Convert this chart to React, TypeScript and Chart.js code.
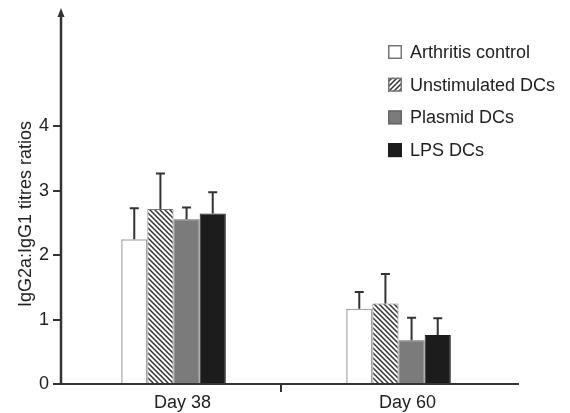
import React, { useEffect, useRef } from "react";
import { Chart, registerables } from "chart.js";

Chart.register(...registerables);

const categories = ["Day 38", "Day 60"];
const seriesNames = ["Arthritis control", "Unstimulated DCs", "Plasmid DCs", "LPS DCs"];
const arthritisControl = [2.25, 1.17];
const unstimulatedDCs = [2.72, 1.25];
const plasmidDCs = [2.56, 0.68];
const lpsDCs = [2.65, 0.76];
const arthritisControlErr = [0.48, 0.26];
const unstimulatedDCsErr = [0.55, 0.46];
const plasmidDCsErr = [0.18, 0.35];
const lpsDCsErr = [0.33, 0.26];
const yTicks = [0, 1, 2, 3, 4];
const yTitle = "IgG2a:IgG1 titres ratios";

const FONT = "'Liberation Sans', Arial, Helvetica, sans-serif";
const TEXT = "#222";
const AXIS = "#333";

function makeHatch(forward: boolean): CanvasPattern | string {
  const s = 5;
  const c = document.createElement("canvas");
  c.width = s;
  c.height = s;
  const g = c.getContext("2d");
  if (!g) return "#ccc";
  g.fillStyle = "#fff";
  g.fillRect(0, 0, s, s);
  g.strokeStyle = "#333";
  g.lineWidth = 1.5;
  g.beginPath();
  if (forward) {
    g.moveTo(-1, s + 1); g.lineTo(s + 1, -1);
    g.moveTo(-1, 1); g.lineTo(1, -1);
    g.moveTo(s - 1, s + 1); g.lineTo(s + 1, s - 1);
  } else {
    g.moveTo(-1, -1); g.lineTo(s + 1, s + 1);
    g.moveTo(s - 1, -1); g.lineTo(s + 1, 1);
    g.moveTo(-1, s - 1); g.lineTo(1, s + 1);
  }
  g.stroke();
  const p = g.createPattern(c, "repeat");
  return p || "#ccc";
}

export default function App() {
  const ref = useRef<HTMLCanvasElement | null>(null);

  useEffect(() => {
    const canvas = ref.current;
    if (!canvas) return;
    const barHatch = makeHatch(false);
    const legendHatch = makeHatch(true);

    const fills: any[] = ["#ffffff", barHatch, "#7b7b7b", "#1c1c1c"];
    const legendFills: any[] = ["#ffffff", legendHatch, "#7b7b7b", "#1c1c1c"];
    const borders = ["#a5a5a5", "#777777", "#666666", "#1c1c1c"];
    const values = [arthritisControl, unstimulatedDCs, plasmidDCs, lpsDCs];
    const errors = [arthritisControlErr, unstimulatedDCsErr, plasmidDCsErr, lpsDCsErr];

    const decor = {
      id: "decor",
      afterDatasetsDraw(chart: any) {
        const ctx = chart.ctx;
        const ys = chart.scales.y;
        ctx.save();
        ctx.strokeStyle = AXIS;
        ctx.lineWidth = 2;
        chart.data.datasets.forEach((ds: any, i: number) => {
          const meta = chart.getDatasetMeta(i);
          meta.data.forEach((bar: any, j: number) => {
            const v = ds.data[j];
            const e = ds.errors[j];
            const yTop = ys.getPixelForValue(v + e);
            const yBar = ys.getPixelForValue(v);
            ctx.beginPath();
            ctx.moveTo(bar.x, yBar);
            ctx.lineTo(bar.x, yTop);
            ctx.moveTo(bar.x - 4.5, yTop);
            ctx.lineTo(bar.x + 4.5, yTop);
            ctx.stroke();
          });
        });
        ctx.restore();
      },
      afterDraw(chart: any) {
        const ctx = chart.ctx;
        const a = chart.chartArea;
        const xs = chart.scales.x;
        ctx.save();
        ctx.strokeStyle = AXIS;
        ctx.fillStyle = AXIS;
        ctx.lineWidth = 2.5;
        // y axis with arrow
        ctx.beginPath();
        ctx.moveTo(a.left, a.bottom + 1);
        ctx.lineTo(a.left, a.top + 6);
        ctx.stroke();
        ctx.beginPath();
        ctx.moveTo(a.left, a.top);
        ctx.lineTo(a.left - 3.5, a.top + 9);
        ctx.lineTo(a.left + 3.5, a.top + 9);
        ctx.closePath();
        ctx.fill();
        // x axis
        ctx.lineWidth = 2;
        ctx.beginPath();
        ctx.moveTo(a.left, a.bottom);
        ctx.lineTo(a.right + 8, a.bottom);
        ctx.stroke();
        // middle tick
        const mid = (xs.getPixelForValue(0) + xs.getPixelForValue(1)) / 2 - 5;
        ctx.beginPath();
        ctx.moveTo(mid, a.bottom);
        ctx.lineTo(mid, a.bottom + 8);
        ctx.stroke();

        // y title
        ctx.fillStyle = TEXT;
        ctx.font = `18px ${FONT}`;
        ctx.textAlign = "center";
        ctx.textBaseline = "middle";
        ctx.save();
        ctx.translate(26, 214);
        ctx.rotate(-Math.PI / 2);
        ctx.fillText(yTitle, 0, 0);
        ctx.restore();

        // legend
        const bx = 388;
        const tx = 410;
        const y0 = 52;
        const step = 32.7;
        const box = 14;
        ctx.textAlign = "left";
        seriesNames.forEach((name, i) => {
          const cy = y0 + i * step;
          ctx.fillStyle = legendFills[i];
          ctx.fillRect(bx, cy - box / 2, box, box);
          ctx.strokeStyle = i === 0 ? "#777" : borders[i];
          ctx.lineWidth = 1.5;
          ctx.strokeRect(bx + 0.75, cy - box / 2 + 0.75, box - 1.5, box - 1.5);
          ctx.fillStyle = TEXT;
          ctx.fillText(name, tx, cy + 1);
        });
        ctx.restore();
      },
    };

    const chart = new Chart(canvas, {
      type: "bar",
      data: {
        labels: categories,
        datasets: seriesNames.map((name, i) => ({
          label: name,
          data: values[i],
          errors: errors[i],
          backgroundColor: fills[i],
          borderColor: borders[i],
          borderWidth: i === 0 ? 1.5 : 1,
          categoryPercentage: 0.465,
          barPercentage: 1,
        })) as any,
      },
      options: {
        responsive: false,
        animation: false,
        layout: { padding: { top: 8, right: 59, left: 0, bottom: 0 } },
        plugins: { legend: { display: false }, tooltip: { enabled: false } },
        scales: {
          x: {
            offset: true,
            grid: { display: false },
            border: { display: false },
            ticks: {
              color: TEXT,
              font: { family: FONT, size: 18 },
              padding: 0,
              labelOffset: 9,
              maxRotation: 0,
            },
            afterFit: (s: any) => {
              s.height = 29;
              s.paddingLeft = 0;
              s.paddingRight = 0;
            },
          },
          y: {
            min: 0,
            max: 5.84,
            grid: {
              drawOnChartArea: false,
              drawTicks: true,
              tickLength: 8,
              color: AXIS,
              lineWidth: 2,
            },
            border: { display: false },
            ticks: {
              color: TEXT,
              font: { family: FONT, size: 18 },
              padding: 4,
            },
            afterBuildTicks: (s: any) => {
              s.ticks = yTicks.map((v) => ({ value: v }));
            },
            afterFit: (s: any) => {
              s.width = 61;
              s.paddingTop = 0;
              s.paddingBottom = 0;
            },
          },
        },
      } as any,
      plugins: [decor],
    });

    return () => chart.destroy();
  }, []);

  return (
    <div style={{ position: "fixed", left: 0, top: 0, width: 570, height: 413, background: "#fff" }}>
      <canvas ref={ref} width={570} height={413} style={{ display: "block" }} />
    </div>
  );
}
